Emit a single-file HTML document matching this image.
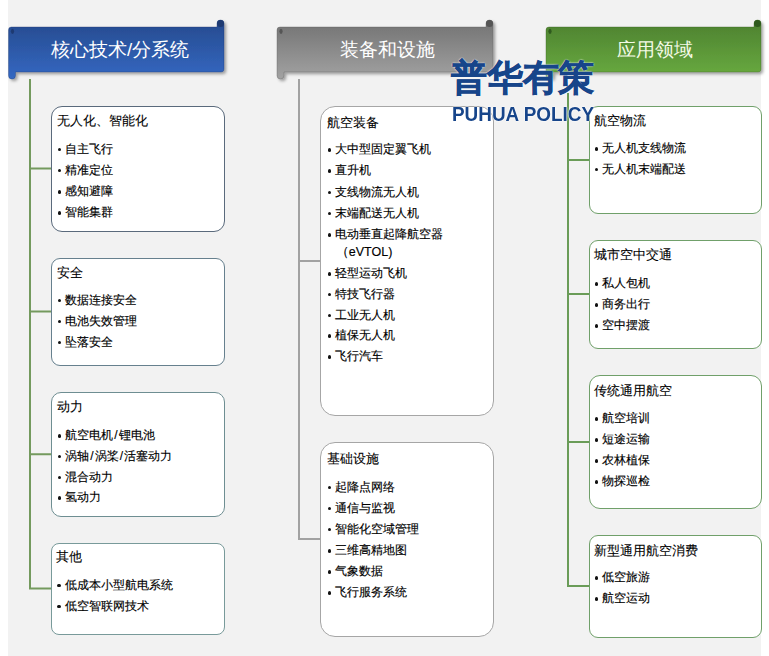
<!DOCTYPE html>
<html><head><meta charset="utf-8">
<style>
html,body{margin:0;padding:0;}
body{width:769px;height:656px;position:relative;overflow:hidden;background:#fff;font-family:"Liberation Sans",sans-serif;color:#000;}
.bg{position:absolute;left:8px;top:0;width:753px;height:656px;background:#f2f2f2;}
svg.g{position:absolute;left:0;top:0;}
.box{position:absolute;box-sizing:border-box;border:1px solid #999;background:#fff;}
.t{position:absolute;-webkit-text-stroke:0.1px #000;font-size:13px;line-height:18px;white-space:nowrap;}
.it{position:absolute;-webkit-text-stroke:0.15px #000;font-size:12px;line-height:16px;white-space:nowrap;}
.sl{margin:0 1px;}
.bu{position:absolute;width:3.5px;height:3.5px;border-radius:50%;background:#111;}
.ban{position:absolute;top:26.5px;height:45px;color:#fff;font-size:18.6px;line-height:45px;text-align:center;white-space:nowrap;}
.wm{position:absolute;color:#17458a;white-space:nowrap;}
</style></head><body>
<div class="bg"></div>
<svg class="g" width="769" height="656" viewBox="0 0 769 656">
<defs>
<linearGradient id="gb" x1="0" y1="0" x2="0" y2="1"><stop offset="0" stop-color="#264a8e"/><stop offset="1" stop-color="#3468c2"/></linearGradient>
<linearGradient id="gg" x1="0" y1="0" x2="0" y2="1"><stop offset="0" stop-color="#727272"/><stop offset="1" stop-color="#a2a2a2"/></linearGradient>
<linearGradient id="gn" x1="0" y1="0" x2="0" y2="1"><stop offset="0" stop-color="#4c8030"/><stop offset="1" stop-color="#6aac40"/></linearGradient>
<filter id="sh" x="-10%" y="-30%" width="120%" height="160%"><feGaussianBlur in="SourceAlpha" stdDeviation="1.6"/><feOffset dx="1.5" dy="2" result="o"/><feFlood flood-color="#000" flood-opacity="0.35"/><feComposite in2="o" operator="in"/><feMerge><feMergeNode/><feMergeNode in="SourceGraphic"/></feMerge></filter>
</defs>
<g filter="url(#sh)">
<path fill="url(#gb)" stroke="#1e3a72" stroke-opacity="0.45" stroke-width="0.8" d="M8.5 30 Q8.5 27 11.5 27 H217 V23.5 A3.5 3.5 0 0 1 224 23.5 V69 Q224 72 221 72 H15.5 V75.5 A3.5 3.5 0 0 1 8.5 75.5 Z"/>
<path fill="url(#gg)" stroke="#5a5a5a" stroke-opacity="0.45" stroke-width="0.8" d="M277 30 Q277 27 280 27 H486 V23.5 A3.5 3.5 0 0 1 493 23.5 V69 Q493 72 490 72 H284 V75.5 A3.5 3.5 0 0 1 277 75.5 Z"/>
<path fill="url(#gn)" stroke="#37621f" stroke-opacity="0.45" stroke-width="0.8" d="M546 30 Q546 27 549 27 H754 V23.5 A3.5 3.5 0 0 1 761 23.5 V69 Q761 72 758 72 H553 V75.5 A3.5 3.5 0 0 1 546 75.5 Z"/>
</g>
<circle cx="220.5" cy="23.5" r="3.5" fill="#1e3a72"/>
<circle cx="489.5" cy="23.5" r="3.5" fill="#555"/>
<circle cx="757.5" cy="23.5" r="3.5" fill="#2f5a1e"/>
<ellipse cx="12.5" cy="31.3" rx="1.6" ry="2.6" fill="#1e3a72"/>
<ellipse cx="281" cy="31.3" rx="1.6" ry="2.6" fill="#555"/>
<ellipse cx="550" cy="31.3" rx="1.6" ry="2.6" fill="#2f5a1e"/>
<g fill="none" stroke-width="2">
<path stroke="#749a5e" d="M30 79 V589.5 M30 168.5 H51 M30 311.6 H51 M30 454.2 H51 M29 588.4 H51"/>
<path stroke="#a2a2a2" d="M299 79 V540 M299 261 H320 M298 539 H320"/>
<path stroke="#6a9c58" d="M568 93 V587 M568 160 H589 M568 294 H589 M568 442 H589 M567 586 H589"/>
</g>
</svg>
<div class="ban" style="left:12px;width:216px;">核心技术/分系统</div>
<div class="ban" style="left:279px;width:216px;">装备和设施</div>
<div class="ban" style="left:547px;width:215px;color:#f4fae6">应用领域</div>

<div class="box" style="left:51px;top:106px;width:174px;height:126px;border-radius:11px;border-color:#5a6a7c"></div>
<div class="t" style="left:57px;top:112.1px">无人化、智能化</div>
<div class="bu" style="left:57.75px;top:147.85px"></div>
<div class="it" style="left:65.3px;top:140.7px">自主飞行</div>
<div class="bu" style="left:57.75px;top:168.95px"></div>
<div class="it" style="left:65.3px;top:161.8px">精准定位</div>
<div class="bu" style="left:57.75px;top:190.05px"></div>
<div class="it" style="left:65.3px;top:182.9px">感知避障</div>
<div class="bu" style="left:57.75px;top:211.15px"></div>
<div class="it" style="left:65.3px;top:204px">智能集群</div>
<div class="box" style="left:51px;top:258px;width:174px;height:108px;border-radius:9px;border-color:#66808e"></div>
<div class="t" style="left:57px;top:264px">安全</div>
<div class="bu" style="left:57.75px;top:298.65px"></div>
<div class="it" style="left:65.3px;top:291.5px">数据连接安全</div>
<div class="bu" style="left:57.75px;top:319.75px"></div>
<div class="it" style="left:65.3px;top:312.6px">电池失效管理</div>
<div class="bu" style="left:57.75px;top:340.85px"></div>
<div class="it" style="left:65.3px;top:333.7px">坠落安全</div>
<div class="box" style="left:51px;top:392px;width:174px;height:125px;border-radius:10px;border-color:#6e8e92"></div>
<div class="t" style="left:57px;top:398px">动力</div>
<div class="bu" style="left:57.75px;top:434.05px"></div>
<div class="it" style="left:65.3px;top:426.9px">航空电机<span class="sl">/</span>锂电池</div>
<div class="bu" style="left:57.75px;top:454.85px"></div>
<div class="it" style="left:65.3px;top:447.7px">涡轴<span class="sl">/</span>涡桨<span class="sl">/</span>活塞动力</div>
<div class="bu" style="left:57.75px;top:475.65px"></div>
<div class="it" style="left:65.3px;top:468.5px">混合动力</div>
<div class="bu" style="left:57.75px;top:496.45px"></div>
<div class="it" style="left:65.3px;top:489.3px">氢动力</div>
<div class="box" style="left:51px;top:543px;width:174px;height:92px;border-radius:8px;border-color:#789a9a"></div>
<div class="t" style="left:56.4px;top:548.2px">其他</div>
<div class="bu" style="left:57.35px;top:583.65px"></div>
<div class="it" style="left:64.8px;top:576.5px">低成本小型航电系统</div>
<div class="bu" style="left:57.35px;top:604.85px"></div>
<div class="it" style="left:64.8px;top:597.7px">低空智联网技术</div>
<div class="box" style="left:320px;top:106px;width:174px;height:310px;border-radius:15px;border-color:#a6a6a6"></div>
<div class="t" style="left:327.3px;top:114.2px">航空装备</div>
<div class="bu" style="left:327.95px;top:148.25px"></div>
<div class="it" style="left:334.8px;top:141.1px">大中型固定翼飞机</div>
<div class="bu" style="left:327.95px;top:169.45px"></div>
<div class="it" style="left:334.8px;top:162.3px">直升机</div>
<div class="bu" style="left:327.95px;top:190.65px"></div>
<div class="it" style="left:334.8px;top:183.5px">支线物流无人机</div>
<div class="bu" style="left:327.95px;top:211.85px"></div>
<div class="it" style="left:334.8px;top:204.7px">末端配送无人机</div>
<div class="bu" style="left:327.95px;top:233.05px"></div>
<div class="it" style="left:334.8px;top:225.9px">电动垂直起降航空器</div>
<div class="it" style="left:335.8px;top:244.4px;font-size:12.5px">（eVTOL)</div>
<div class="bu" style="left:327.95px;top:272.05px"></div>
<div class="it" style="left:334.8px;top:264.9px">轻型运动飞机</div>
<div class="bu" style="left:327.95px;top:292.85px"></div>
<div class="it" style="left:334.8px;top:285.7px">特技飞行器</div>
<div class="bu" style="left:327.95px;top:313.65px"></div>
<div class="it" style="left:334.8px;top:306.5px">工业无人机</div>
<div class="bu" style="left:327.95px;top:334.45px"></div>
<div class="it" style="left:334.8px;top:327.3px">植保无人机</div>
<div class="bu" style="left:327.95px;top:355.25px"></div>
<div class="it" style="left:334.8px;top:348.1px">飞行汽车</div>
<div class="box" style="left:320px;top:442px;width:174px;height:195px;border-radius:15px;border-color:#a6a6a6"></div>
<div class="t" style="left:327.3px;top:449.8px">基础设施</div>
<div class="bu" style="left:327.95px;top:485.75px"></div>
<div class="it" style="left:334.8px;top:478.6px">起降点网络</div>
<div class="bu" style="left:327.95px;top:506.85px"></div>
<div class="it" style="left:334.8px;top:499.7px">通信与监视</div>
<div class="bu" style="left:327.95px;top:527.95px"></div>
<div class="it" style="left:334.8px;top:520.8px">智能化空域管理</div>
<div class="bu" style="left:327.95px;top:549.05px"></div>
<div class="it" style="left:334.8px;top:541.9px">三维高精地图</div>
<div class="bu" style="left:327.95px;top:570.15px"></div>
<div class="it" style="left:334.8px;top:563px">气象数据</div>
<div class="bu" style="left:327.95px;top:591.25px"></div>
<div class="it" style="left:334.8px;top:584.1px">飞行服务系统</div>
<div class="box" style="left:589px;top:106px;width:173px;height:108px;border-radius:9px;border-color:#70a06a"></div>
<div class="t" style="left:594.1px;top:112.2px">航空物流</div>
<div class="bu" style="left:594.95px;top:147.05px"></div>
<div class="it" style="left:602.2px;top:139.9px">无人机支线物流</div>
<div class="bu" style="left:594.95px;top:167.85px"></div>
<div class="it" style="left:602.2px;top:160.7px">无人机末端配送</div>
<div class="box" style="left:589px;top:240px;width:173px;height:109px;border-radius:9px;border-color:#70a06a"></div>
<div class="t" style="left:594.1px;top:246px">城市空中交通</div>
<div class="bu" style="left:594.95px;top:282.05px"></div>
<div class="it" style="left:602.2px;top:274.9px">私人包机</div>
<div class="bu" style="left:594.95px;top:303.05px"></div>
<div class="it" style="left:602.2px;top:295.9px">商务出行</div>
<div class="bu" style="left:594.95px;top:324.05px"></div>
<div class="it" style="left:602.2px;top:316.9px">空中摆渡</div>
<div class="box" style="left:589px;top:375px;width:173px;height:134px;border-radius:11px;border-color:#70a06a"></div>
<div class="t" style="left:594.1px;top:381.8px">传统通用航空</div>
<div class="bu" style="left:594.95px;top:417.45px"></div>
<div class="it" style="left:602.2px;top:410.3px">航空培训</div>
<div class="bu" style="left:594.95px;top:438.35px"></div>
<div class="it" style="left:602.2px;top:431.2px">短途运输</div>
<div class="bu" style="left:594.95px;top:459.25px"></div>
<div class="it" style="left:602.2px;top:452.1px">农林植保</div>
<div class="bu" style="left:594.95px;top:480.15px"></div>
<div class="it" style="left:602.2px;top:473px">物探巡检</div>
<div class="box" style="left:589px;top:535px;width:173px;height:103px;border-radius:9px;border-color:#70a06a"></div>
<div class="t" style="left:594.1px;top:541.6px">新型通用航空消费</div>
<div class="bu" style="left:594.95px;top:576.35px"></div>
<div class="it" style="left:602.2px;top:569.2px">低空旅游</div>
<div class="bu" style="left:594.95px;top:597.05px"></div>
<div class="it" style="left:602.2px;top:589.9px">航空运动</div>
<div class="wm" style="left:451px;top:58px;font-size:35.5px;font-weight:bold;line-height:40px;letter-spacing:-0.2px;-webkit-text-stroke:0.7px #17458a;text-shadow:0 0 2px #fff,0 0 1.5px #fff,0 0 1px #fff;">普华有策</div>
<div class="wm" style="left:452px;top:103px;font-size:21px;font-weight:bold;line-height:22px;transform:scaleX(0.9);transform-origin:0 0;text-shadow:0 0 2px #fff,0 0 1px #fff,0 0 1px #fff;">PUHUA POLICY</div>
</body></html>
